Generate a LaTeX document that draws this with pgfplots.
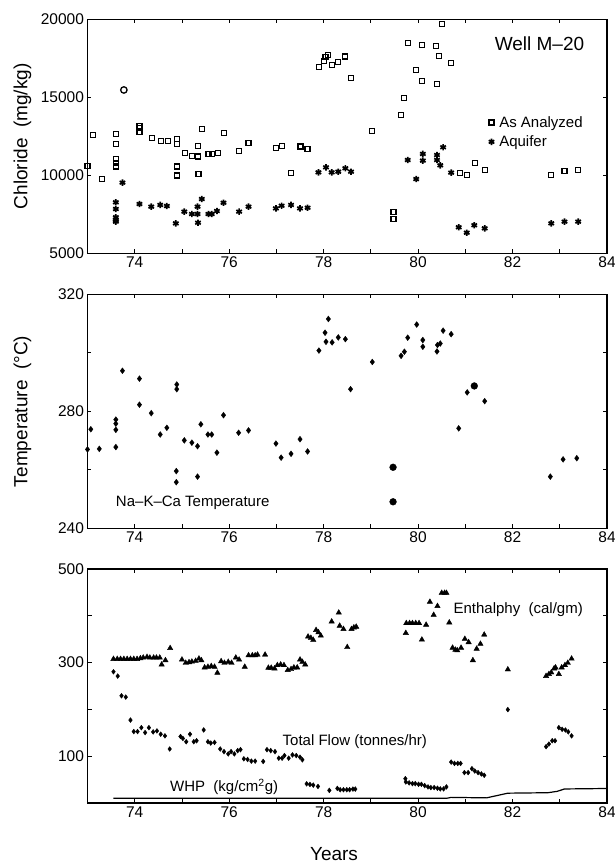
\documentclass[border=0pt]{standalone}
\usepackage{fontspec}
\setmainfont{Liberation Sans}
\usepackage{pgfplots}
\pgfplotsset{compat=1.18}

\newcommand{\tickfont}{\fontsize{15.5}{18}\selectfont}
\newcommand{\labfont}{\fontsize{19}{22}\selectfont}
\newcommand{\notefont}{\fontsize{15}{18}\selectfont}

\pgfplotsset{
  wellpanel/.style={
    scale only axis, width=519.5pt, height=234pt,
    xmin=73, xmax=84,
    xtick={74,...,84}, xticklabels={74,,76,,78,,80,,82,,84},
    scaled x ticks=false, scaled y ticks=false,
    tick label style={font=\tickfont},
    label style={font=\labfont},
    /pgf/number format/assume math mode=true,
    axis line style={line width=1.3pt},
    major tick length=4pt,
    tick style={line width=0.9pt, black},
    tick align=inside,
  },
  sq/.style={only marks, mark=square, mark size=2.5pt, line width=1.2pt, black},
  ast/.style={only marks, mark=asterisk, mark size=3.2pt, line width=1.7pt, black},
  dia/.style={only marks, mark=diamond*, mark size=2.9pt, black},
  dot/.style={only marks, mark=*, mark size=3.4pt, black},
  tri/.style={only marks, mark=triangle*, mark size=3.1pt, black},
}

\begin{document}
\begin{tikzpicture}

% ---- chloride ----
\begin{axis}[wellpanel, at={(87.5pt,-19.3pt)}, anchor=north west,
  ymin=5000, ymax=20000,
  ytick={5000,10000,15000,20000}, yticklabels={5000,10000,15000,20000},
  ylabel={Chloride\ \ (mg/kg)},
  ylabel style={at={(axis description cs:-0.125,0.5)}, anchor=center},
  legend style={at={(rel axis cs:0.772,0.595)}, anchor=north west, draw=none, fill=none,
    font=\notefont, row sep=3pt, inner sep=0pt,
    /tikz/every odd column/.append style={column sep=3pt}},
  legend cell align=left]
\addplot[sq] coordinates {
 (73.0,10600) (73.12,12580) (73.3,9740) (73.6,12630) (73.6,11990) (73.6,11050)
 (73.6,10800) (73.6,10560) (74.1,13160) (74.1,13010) (74.1,12760) (74.36,12370)
 (74.55,12180) (74.7,12180) (74.9,12310) (74.9,11990) (74.9,10560) (74.9,9990)
 (75.06,11450) (75.22,11260) (75.34,11200) (75.34,11880) (75.35,10060) (75.42,12950)
 (75.56,11350) (75.64,11350) (75.76,11410) (75.89,12690) (76.2,11580) (76.41,12050)
 (76.99,11730) (77.12,11880) (77.31,10170) (77.51,11840) (77.66,11710) (77.9,16920)
 (78.01,17330) (78.04,17560) (78.09,17710) (78.17,17050) (78.31,17260) (78.45,17610)
 (78.58,16260) (79.03,12820) (79.48,7630) (79.48,7220) (79.64,13850) (79.7,14960)
 (79.78,18460) (79.96,16750) (80.08,18330) (80.09,16070) (80.38,18290) (80.4,15850)
 (80.44,17670) (80.51,19700) (80.69,17220) (80.88,10130) (81.03,10000) (81.2,10810)
 (81.41,10340) (82.82,10000) (83.1,10280) (83.39,10320)
};
\addlegendentry{As Analyzed}
\addplot[ast] coordinates {
 (73.6,8270) (73.6,7840) (73.6,7310) (73.6,7130) (73.6,7030) (73.74,9530) (74.1,8160)
 (74.35,7990) (74.54,8100) (74.68,8030) (74.87,6920) (75.05,7670) (75.21,7520)
 (75.33,7520) (75.33,7990) (75.34,6960) (75.42,8480) (75.56,7520) (75.63,7520)
 (75.74,7710) (75.88,8240) (76.21,7670) (76.41,7990) (76.99,7880) (77.11,8050)
 (77.31,8100) (77.5,7880) (77.66,7920) (77.89,10190) (78.05,10510) (78.17,10190)
 (78.31,10230) (78.46,10450) (78.58,10230) (79.78,10980) (79.96,9760) (80.1,11370)
 (80.1,10940) (80.4,11300) (80.4,10980) (80.47,10640) (80.53,11800) (80.7,10170)
 (80.86,6670) (81.03,6320) (81.19,6800) (81.41,6600) (82.82,6920) (83.1,7030) (83.39,7030)
};
\addlegendentry{Aquifer}
\addplot[only marks, mark=o, mark size=3.2pt, line width=1.3pt, black, forget plot]
 coordinates {(73.77,15470)};
\node[font=\labfont] at (rel axis cs:0.87,0.897) {Well M--20};
\end{axis}

% ---- temperature ----
\begin{axis}[wellpanel, at={(87.5pt,-294.4pt)}, anchor=north west,
  ymin=240, ymax=320,
  ytick={240,260,280,300,320}, yticklabels={240,,280,,320},
  ylabel={Temperature\ \ (°C)},
  ylabel style={at={(axis description cs:-0.125,0.5)}, anchor=center}]
\addplot[dia] coordinates {
 (73.0,267) (73.07,273.9) (73.25,267.2) (73.6,277.2) (73.6,275.8) (73.6,273.7)
 (73.6,267.8) (73.74,293.9) (74.1,291.2) (74.1,282.3) (74.35,279.4) (74.54,272.1)
 (74.68,274.4) (74.89,289.2) (74.89,287.6) (74.88,259.6) (74.88,255.8) (75.05,270.1)
 (75.21,269.3) (75.33,268.1) (75.33,257.7) (75.4,275.6) (75.55,272.1) (75.63,272.1)
 (75.74,265.9) (75.88,278.7) (76.2,272.7) (76.41,273.5) (76.99,269.0) (77.1,264.2)
 (77.31,265.5) (77.5,270.5) (77.66,266.3) (77.9,300.8) (78.03,306.9) (78.1,311.6)
 (78.05,303.8) (78.18,303.6) (78.31,305.3) (78.46,304.7) (78.57,287.6) (79.03,296.9)
 (79.64,299.0) (79.71,300.4) (79.78,305.2) (79.97,309.7) (80.1,304.4) (80.1,302.1)
 (80.4,300.5) (80.41,302.7) (80.47,303.2) (80.53,307.6) (80.7,306.4) (80.86,274.2)
 (81.04,286.5) (81.41,283.5) (82.8,257.7) (83.07,263.6) (83.36,264.0)
};
\addplot[dot] coordinates {(79.47,260.9) (79.47,249.1) (81.19,288.7)};
\node[font=\notefont] at (rel axis cs:0.2025,0.109) {Na--K--Ca Temperature};
\end{axis}

% ---- enthalpy, flow, WHP ----
\begin{axis}[wellpanel, at={(87.5pt,-569pt)}, anchor=north west,
  ymin=0, ymax=500,
  ytick={100,200,300,400,500}, yticklabels={100,,300,,500},
  xlabel={Years},
  xlabel style={at={(axis description cs:0.4745,-0.219)}, anchor=center}]
\addplot[tri] coordinates {
 (73.55,307.7) (73.63,307.7) (73.70,307.7) (73.77,307.7) (73.84,307.7) (73.91,307.7)
 (73.98,307.7) (74.05,307.7) (74.12,309.1) (74.18,310.5) (74.26,312) (74.32,310.5)
 (74.40,310.5) (74.46,310.5) (74.53,310.5) (74.57,295.8) (74.65,305) (74.75,330.9)
 (75.0,306.3) (75.08,299.3) (75.15,300.7) (75.21,302) (75.29,303.5) (75.36,308.4)
 (75.41,305) (75.48,289.5) (75.55,290.9) (75.62,292.3) (75.69,290.9) (75.75,278.2)
 (75.83,302.8) (75.9,299.3) (75.98,301.4) (76.05,299.3) (76.14,310.5) (76.21,306.3)
 (76.33,290.9) (76.41,315.4) (76.49,315.4) (76.55,315.4) (76.6,316.8) (76.76,316.8)
 (76.83,288.8) (76.89,288.8) (76.96,287.4) (77.02,294.4) (77.09,295.8) (77.16,294.4)
 (77.24,283.9) (77.31,286) (77.37,289.5) (77.44,289.5) (77.5,306.3) (77.55,301.4)
 (77.61,295.8) (77.67,355.4) (77.73,352.6) (77.78,348.4) (77.84,369.5) (77.89,364.6)
 (77.94,357.5) (78.17,387.7) (78.32,406.7) (78.34,378.6) (78.42,371.6) (78.5,333)
 (78.59,371.6) (78.64,375) (78.69,376.5) (79.74,363.2) (79.75,384.2) (79.82,384.2)
 (79.88,384.2) (79.95,384.2) (80.02,384.2) (80.08,349) (80.17,380.7) (80.25,429.8)
 (80.33,401.8) (80.41,420.7) (80.5,448.8) (80.56,448.8) (80.6,448.8) (80.66,385.6)
 (80.73,331.6) (80.79,327.4) (80.83,326) (80.91,331.6) (80.99,350.5) (81.07,343.5)
 (81.16,304.9) (81.24,329.5) (81.32,340) (81.4,359.6) (81.9,285.3) (82.71,271.2)
 (82.77,275.4) (82.82,278.9) (82.88,287.4) (82.91,289.5) (82.98,275.4) (83.04,289.5)
 (83.11,294.4) (83.17,299.3) (83.25,308.4)
};
\addplot[dia, mark size=2.4pt] coordinates {
 (73.55,280.4) (73.64,271.2) (73.72,229.1) (73.81,226.3) (73.91,177.2) (73.98,152.6)
 (74.06,152.6) (74.14,161) (74.22,150.5) (74.3,161) (74.39,151.9) (74.47,154)
 (74.55,147) (74.64,143.5) (74.74,115.4) (74.97,142.1) (75.02,137.9) (75.09,130.9)
 (75.17,147) (75.25,130.9) (75.31,133) (75.46,156.1) (75.55,130.9) (75.61,128.1)
 (75.69,129.5) (75.81,115.4) (75.89,109.8) (75.98,104.9) (76.04,109.8) (76.11,104.9)
 (76.18,111.9) (76.24,114) (76.31,94.4) (76.39,93) (76.47,89.5) (76.55,89.5)
 (76.72,88.8) (76.8,114) (76.88,111.9) (76.97,109.8) (77.05,95.8) (77.12,95.8)
 (77.17,101.4) (77.26,95.8) (77.34,102.8) (77.42,101.4) (77.5,97.9) (77.55,92.3)
 (77.64,41) (77.71,39.6) (77.78,38.2) (77.88,35.4) (78.12,27) (78.29,31.2) (78.35,28.4)
 (78.42,28.4) (78.49,28.4) (78.55,28.4) (78.62,29.8) (78.67,29.8) (79.73,52) (79.74,45)
 (79.81,43) (79.88,41.4) (79.94,41.4) (80.01,40) (80.07,40) (80.14,37.2) (80.21,34.4)
 (80.27,33) (80.34,33) (80.41,31.6) (80.47,30.2) (80.54,30.2) (80.6,34.4) (80.7,87.4)
 (80.77,84.6) (80.84,84.6) (80.9,84.6) (80.98,65) (81.06,65) (81.14,73.3) (81.2,68.4)
 (81.27,65) (81.34,62.1) (81.4,59.3) (81.9,199.6) (82.71,120.4) (82.77,126) (82.84,133)
 (82.9,133) (82.98,161) (83.05,157.5) (83.12,156) (83.18,152) (83.25,143.5)
};
\addplot[black, line width=1.2pt, no marks] coordinates {
 (73.55,10) (80.6,10) (80.7,12) (81.45,11) (81.9,21) (82.75,22) (82.95,25) (83.1,30) (84,31)
};
\node[font=\notefont] at (rel axis cs:0.829,0.828) {Enthalphy\ \ (cal/gm)};
\node[font=\notefont] at (rel axis cs:0.5145,0.264) {Total Flow (tonnes/hr)};
\node[font=\notefont] at (rel axis cs:0.263,0.068) {WHP\ \ (kg/cm\textsuperscript{2}g)};
\end{axis}

\pgfresetboundingbox
\path[use as bounding box] (0,0) rectangle (615pt,-865pt);
\end{tikzpicture}
\end{document}
